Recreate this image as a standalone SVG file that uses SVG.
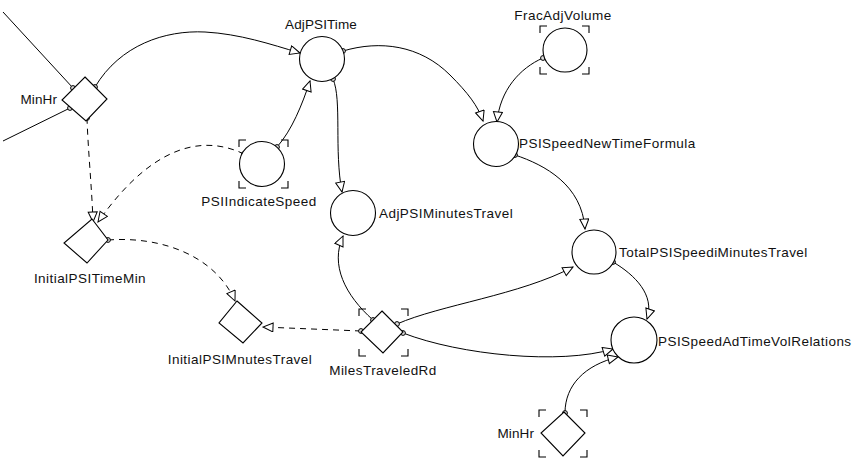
<svg xmlns="http://www.w3.org/2000/svg" width="857" height="461" viewBox="0 0 857 461">
<style>
  .n { fill: #fff; stroke: #000; stroke-width: 1.1; }
  .b { fill: none; stroke: #000; stroke-width: 1.1; }
  .c { fill: none; stroke: #000; stroke-width: 1; marker-start: url(#dot); marker-end: url(#arr); }
  .d { stroke-dasharray: 6 5; }
  .p { fill: none; stroke: #000; stroke-width: 1; marker-start: url(#dot); }
  text { font-family: "Liberation Sans", Arial, sans-serif; font-size: 13.5px; letter-spacing: 0.45px; fill: #111; }
  .s { letter-spacing: 0.1px; }
</style>
<defs>
  <marker id="arr" markerUnits="userSpaceOnUse" markerWidth="14" markerHeight="12" refX="11" refY="5" orient="auto" viewBox="0 0 14 12">
    <path d="M1,0.5 L11,5 L1,9.5 Z" fill="#fff" stroke="#000" stroke-width="1"/>
  </marker>
  <marker id="dot" markerUnits="userSpaceOnUse" markerWidth="8" markerHeight="8" refX="4" refY="4" viewBox="0 0 8 8">
    <circle cx="4" cy="4" r="2.4" fill="#ddd" stroke="#000" stroke-width="1"/>
  </marker>
</defs>
<rect width="857" height="461" fill="#fff"/>

<g id="connectors">
  <path class="p" d="M73,88 L3,12"/>
  <path class="p" d="M70,108 L3,141"/>
  <path class="c" d="M95,87 C120,45 165,30 205,32 C240,34 270,44 300,53"/>
  <path class="c" d="M343,51 C380,40 420,45 450,75 C468,93 478,106 483,121"/>
  <path class="c" d="M543,58 C520,68 500,90 497,122"/>
  <path class="c" d="M277,147 C292,130 302,105 310,81"/>
  <path class="c" d="M333,79 C342,100 334,150 342,192"/>
  <path class="c d" d="M244,154 C200,133 150,148 98,222"/>
  <path class="c d" d="M87,118 C88,150 92,190 93,222"/>
  <path class="c d" d="M108,240 C160,236 215,255 235,301"/>
  <path class="c d" d="M361,331 L263,327"/>
  <path class="c" d="M373,320 C345,295 330,265 343,236"/>
  <path class="c" d="M397,324 C440,305 520,295 573,267"/>
  <path class="c" d="M403,333 C460,355 560,365 613,349"/>
  <path class="c" d="M515,155 C545,165 582,185 585,229"/>
  <path class="c" d="M613,262 C635,275 655,295 647,319"/>
  <path class="c" d="M565,413 C565,385 585,365 618,357"/>
</g>

<g id="MinHr_top">
  <polygon class="n" points="85,77 107,99 86,121 62,100"/>
  <text class="s" x="57" y="104" text-anchor="end">MinHr</text>
</g>

<g id="AdjPSITime">
  <circle class="n" cx="322" cy="59" r="22.5"/>
  <text class="s" x="321" y="29" text-anchor="middle">AdjPSITime</text>
</g>

<g id="FracAdjVolume">
  <circle class="n" cx="565" cy="50" r="22"/>
  <path class="b" d="M540,33 V26 H547 M582,26 H589 V33 M589,67 V74 H582 M547,74 H540 V67"/>
  <text x="563" y="20" text-anchor="middle">FracAdjVolume</text>
</g>

<g id="PSISpeedNewTimeFormula">
  <circle class="n" cx="496" cy="144" r="22.5"/>
  <text x="519" y="148">PSISpeedNewTimeFormula</text>
</g>

<g id="PSIIndicateSpeed">
  <circle class="n" cx="262" cy="164" r="22.5"/>
  <path class="b" d="M239,147 V140 H246 M281,140 H288 V147 M288,181 V188 H281 M246,188 H239 V181"/>
  <text x="259" y="206" text-anchor="middle">PSIIndicateSpeed</text>
</g>

<g id="AdjPSIMinutesTravel">
  <circle class="n" cx="353" cy="213" r="22.5"/>
  <text x="379" y="218">AdjPSIMinutesTravel</text>
</g>

<g id="InitialPSITimeMin">
  <polygon class="n" points="92,219 108,240 87,263 64,243"/>
  <text x="90" y="283" text-anchor="middle">InitialPSITimeMin</text>
</g>

<g id="TotalPSISpeediMinutesTravel">
  <circle class="n" cx="594" cy="252" r="22"/>
  <text x="619" y="257">TotalPSISpeediMinutesTravel</text>
</g>

<g id="InitialPSIMnutesTravel">
  <polygon class="n" points="237,301 262,323 243,343 219,323"/>
  <text x="240" y="364" text-anchor="middle">InitialPSIMnutesTravel</text>
</g>

<g id="MilesTraveledRd">
  <polygon class="n" points="382,311 403,332 383,353 361,332"/>
  <path class="b" d="M359,316 V309 H366 M401,309 H408 V316 M408,349 V356 H401 M366,356 H359 V349"/>
  <text x="383" y="375" text-anchor="middle">MilesTraveledRd</text>
</g>

<g id="PSISpeedAdTimeVolRelations">
  <circle class="n" cx="634" cy="340" r="23"/>
  <text x="658" y="346">PSISpeedAdTimeVolRelations</text>
</g>

<g id="MinHr_bottom">
  <polygon class="n" points="564,412 585,433 563,456 541,433"/>
  <path class="b" d="M539,417 V410 H546 M580,410 H587 V417 M587,450 V457 H580 M546,457 H539 V450"/>
  <text class="s" x="534" y="438" text-anchor="end">MinHr</text>
</g>
</svg>
